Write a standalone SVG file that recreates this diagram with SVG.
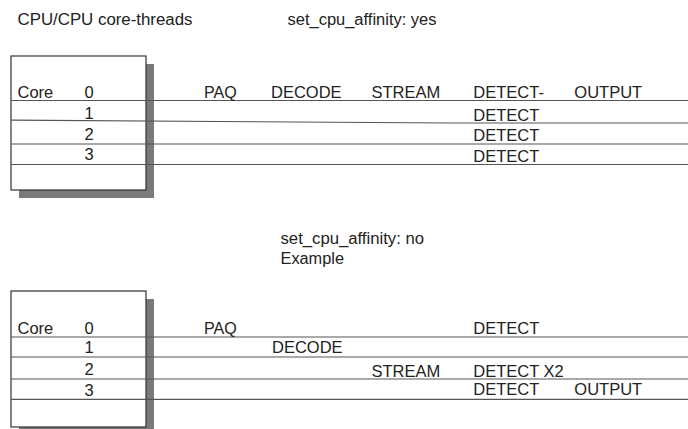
<svg xmlns="http://www.w3.org/2000/svg" width="688" height="429" viewBox="0 0 688 429">
<style>
text{font-family:"Liberation Sans",Arial,sans-serif;fill:#222}
.t{font-size:16px}
.c{font-size:16.5px}
.m{text-anchor:middle}
.box{fill:#fff;stroke:#333;stroke-width:1.2}
.sh{fill:#7a7a7a}
.ln{fill:none;stroke:#555;stroke-width:1.2}
</style>
<rect width="688" height="429" fill="#fff"/>
<g id="titles">
<text class="t" x="17.5" y="25" textLength="175" lengthAdjust="spacingAndGlyphs">CPU/CPU core-threads</text>
<text class="t" x="287.5" y="25" textLength="149" lengthAdjust="spacingAndGlyphs">set_cpu_affinity: yes</text>
<text class="t" x="280.5" y="243.5" textLength="143.5" lengthAdjust="spacingAndGlyphs">set_cpu_affinity: no</text>
<text class="t" x="280.5" y="263.5" textLength="63.5" lengthAdjust="spacingAndGlyphs">Example</text>
</g>
<g id="table-yes">
<rect class="sh" x="19" y="64" width="135" height="134"/>
<rect class="box" x="11" y="56" width="135" height="134"/>
<g id="rows-yes">
<line class="ln" x1="11" y1="100.5" x2="688" y2="100.5"/>
<polyline class="ln" points="11,120.2 450,123 688,123"/>
<line class="ln" x1="11" y1="144" x2="688" y2="144"/>
<line class="ln" x1="11" y1="164.5" x2="688" y2="164.5"/>
</g>
<text class="c" x="17.5" y="98">Core</text>
<text class="c m" x="89" y="98">0</text>
<text class="c m" x="89" y="118.5">1</text>
<text class="c m" x="89" y="139.5">2</text>
<text class="c m" x="89" y="160">3</text>
<text class="c" x="204" y="98" textLength="32.7" lengthAdjust="spacingAndGlyphs">PAQ</text>
<text class="c" x="271" y="98">DECODE</text>
<text class="c" x="371.5" y="98">STREAM</text>
<text class="c" x="473.3" y="98">DETECT-</text>
<text class="c" x="574.3" y="98">OUTPUT</text>
<text class="c" x="473.3" y="120.5">DETECT</text>
<text class="c" x="473.3" y="140.7">DETECT</text>
<text class="c" x="473.3" y="161.5">DETECT</text>
</g>
<g id="table-no">
<rect class="sh" x="19" y="299" width="135" height="140"/>
<rect class="box" x="11" y="291" width="135" height="136"/>
<g id="rows-no">
<line class="ln" x1="11" y1="337" x2="688" y2="337"/>
<line class="ln" x1="11" y1="357" x2="688" y2="357"/>
<line class="ln" x1="11" y1="379" x2="688" y2="379"/>
<line class="ln" x1="11" y1="399.3" x2="688" y2="399.3"/>
</g>
<text class="c" x="17.5" y="334.3">Core</text>
<text class="c m" x="89" y="334.3">0</text>
<text class="c m" x="89" y="352.7">1</text>
<text class="c m" x="89" y="375">2</text>
<text class="c m" x="89" y="396">3</text>
<text class="c" x="204" y="334.3" textLength="32.7" lengthAdjust="spacingAndGlyphs">PAQ</text>
<text class="c" x="473.3" y="334.3">DETECT</text>
<text class="c" x="272" y="352.5">DECODE</text>
<text class="c" x="371.5" y="376.7">STREAM</text>
<text class="c" x="473.3" y="376.7">DETECT X2</text>
<text class="c" x="473.3" y="395.3">DETECT</text>
<text class="c" x="574.3" y="395.3">OUTPUT</text>
</g>
</svg>
